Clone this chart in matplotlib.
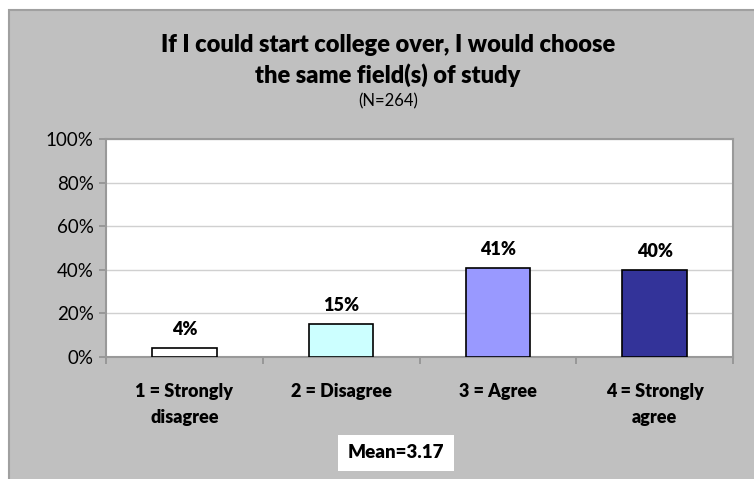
import matplotlib
matplotlib.use("Agg")
import matplotlib.pyplot as plt
from matplotlib.patches import Rectangle

plt.rcParams["font.family"] = ["Lato", "DejaVu Sans"]

categories = ["1 = Strongly\ndisagree", "2 = Disagree", "3 = Agree", "4 = Strongly\nagree"]
percents = [4, 15, 41, 40]
bar_colors = ["#ffffff", "#ccffff", "#9999ff", "#333399"]
title_lines = ["If I could start college over, I would choose", "the same field(s) of study"]
subtitle = "(N=264)"
mean_label = "Mean=3.17"

BOLD = "heavy"  # Lato's 700 looks light next to Calibri bold

W, H = 754, 479
fig = plt.figure(figsize=(W / 100, H / 100), dpi=100)
fig.patch.set_facecolor("white")

# gray chart panel behind everything
fig.patches.append(Rectangle((9 / W, -0.01), 1.0, (H - 10) / H + 0.01,
                             transform=fig.transFigure, facecolor="#c0c0c0",
                             edgecolor="#a0a0a0", linewidth=1.5, zorder=-10))

ax = fig.add_axes([106 / W, (H - 357) / H, 627 / W, 218 / H])
ax.set_zorder(5)
ax.set_facecolor("white")

x = range(len(categories))
ax.bar(x, percents, width=0.41, color=bar_colors, edgecolor="black", linewidth=1.2, zorder=3)
for xi, v in zip(x, percents):
    ax.text(xi, v + 8.5, f"{v}%", ha="center", va="center", fontsize=13,
            fontweight=BOLD, color="black")

ax.set_xlim(-0.5, len(categories) - 0.5)
ax.set_ylim(0, 100)
ax.set_yticks(range(0, 101, 20))
ax.set_yticklabels([f"{t}%" for t in range(0, 101, 20)], fontsize=13.5)
ax.yaxis.grid(True, color="#d0d0d0", linewidth=1, zorder=0)
ax.set_axisbelow(True)

ax.set_xticks([i - 0.5 for i in range(len(categories) + 1)])
ax.set_xticklabels([])
ax.set_xticks(list(x), minor=True)
ax.set_xticklabels(categories, minor=True, fontsize=13, fontweight=BOLD, linespacing=1.65)
ax.tick_params(axis="x", which="minor", length=0, pad=19)
ax.tick_params(axis="x", which="major", length=5, color="#909090", width=1.2)
ax.tick_params(axis="y", length=5, color="#909090", width=1.2, pad=4)

for side in ["left", "bottom", "top", "right"]:
    ax.spines[side].set_color("#999999")
    ax.spines[side].set_linewidth(1.5)

fig.text(388 / W, 1 - 45 / H, title_lines[0], ha="center", va="center",
         fontsize=17, fontweight=BOLD)
fig.text(388 / W, 1 - 75 / H, title_lines[1], ha="center", va="center",
         fontsize=17, fontweight=BOLD)
fig.text(388 / W, 1 - 101 / H, subtitle, ha="center", va="center", fontsize=12)

fig.text(396 / W, 1 - 453 / H, mean_label, ha="center", va="center", fontsize=13.5,
         fontweight=BOLD,
         bbox=dict(boxstyle="square,pad=0.5", facecolor="white", edgecolor="none"))

fig.savefig("out.png", dpi=100)
